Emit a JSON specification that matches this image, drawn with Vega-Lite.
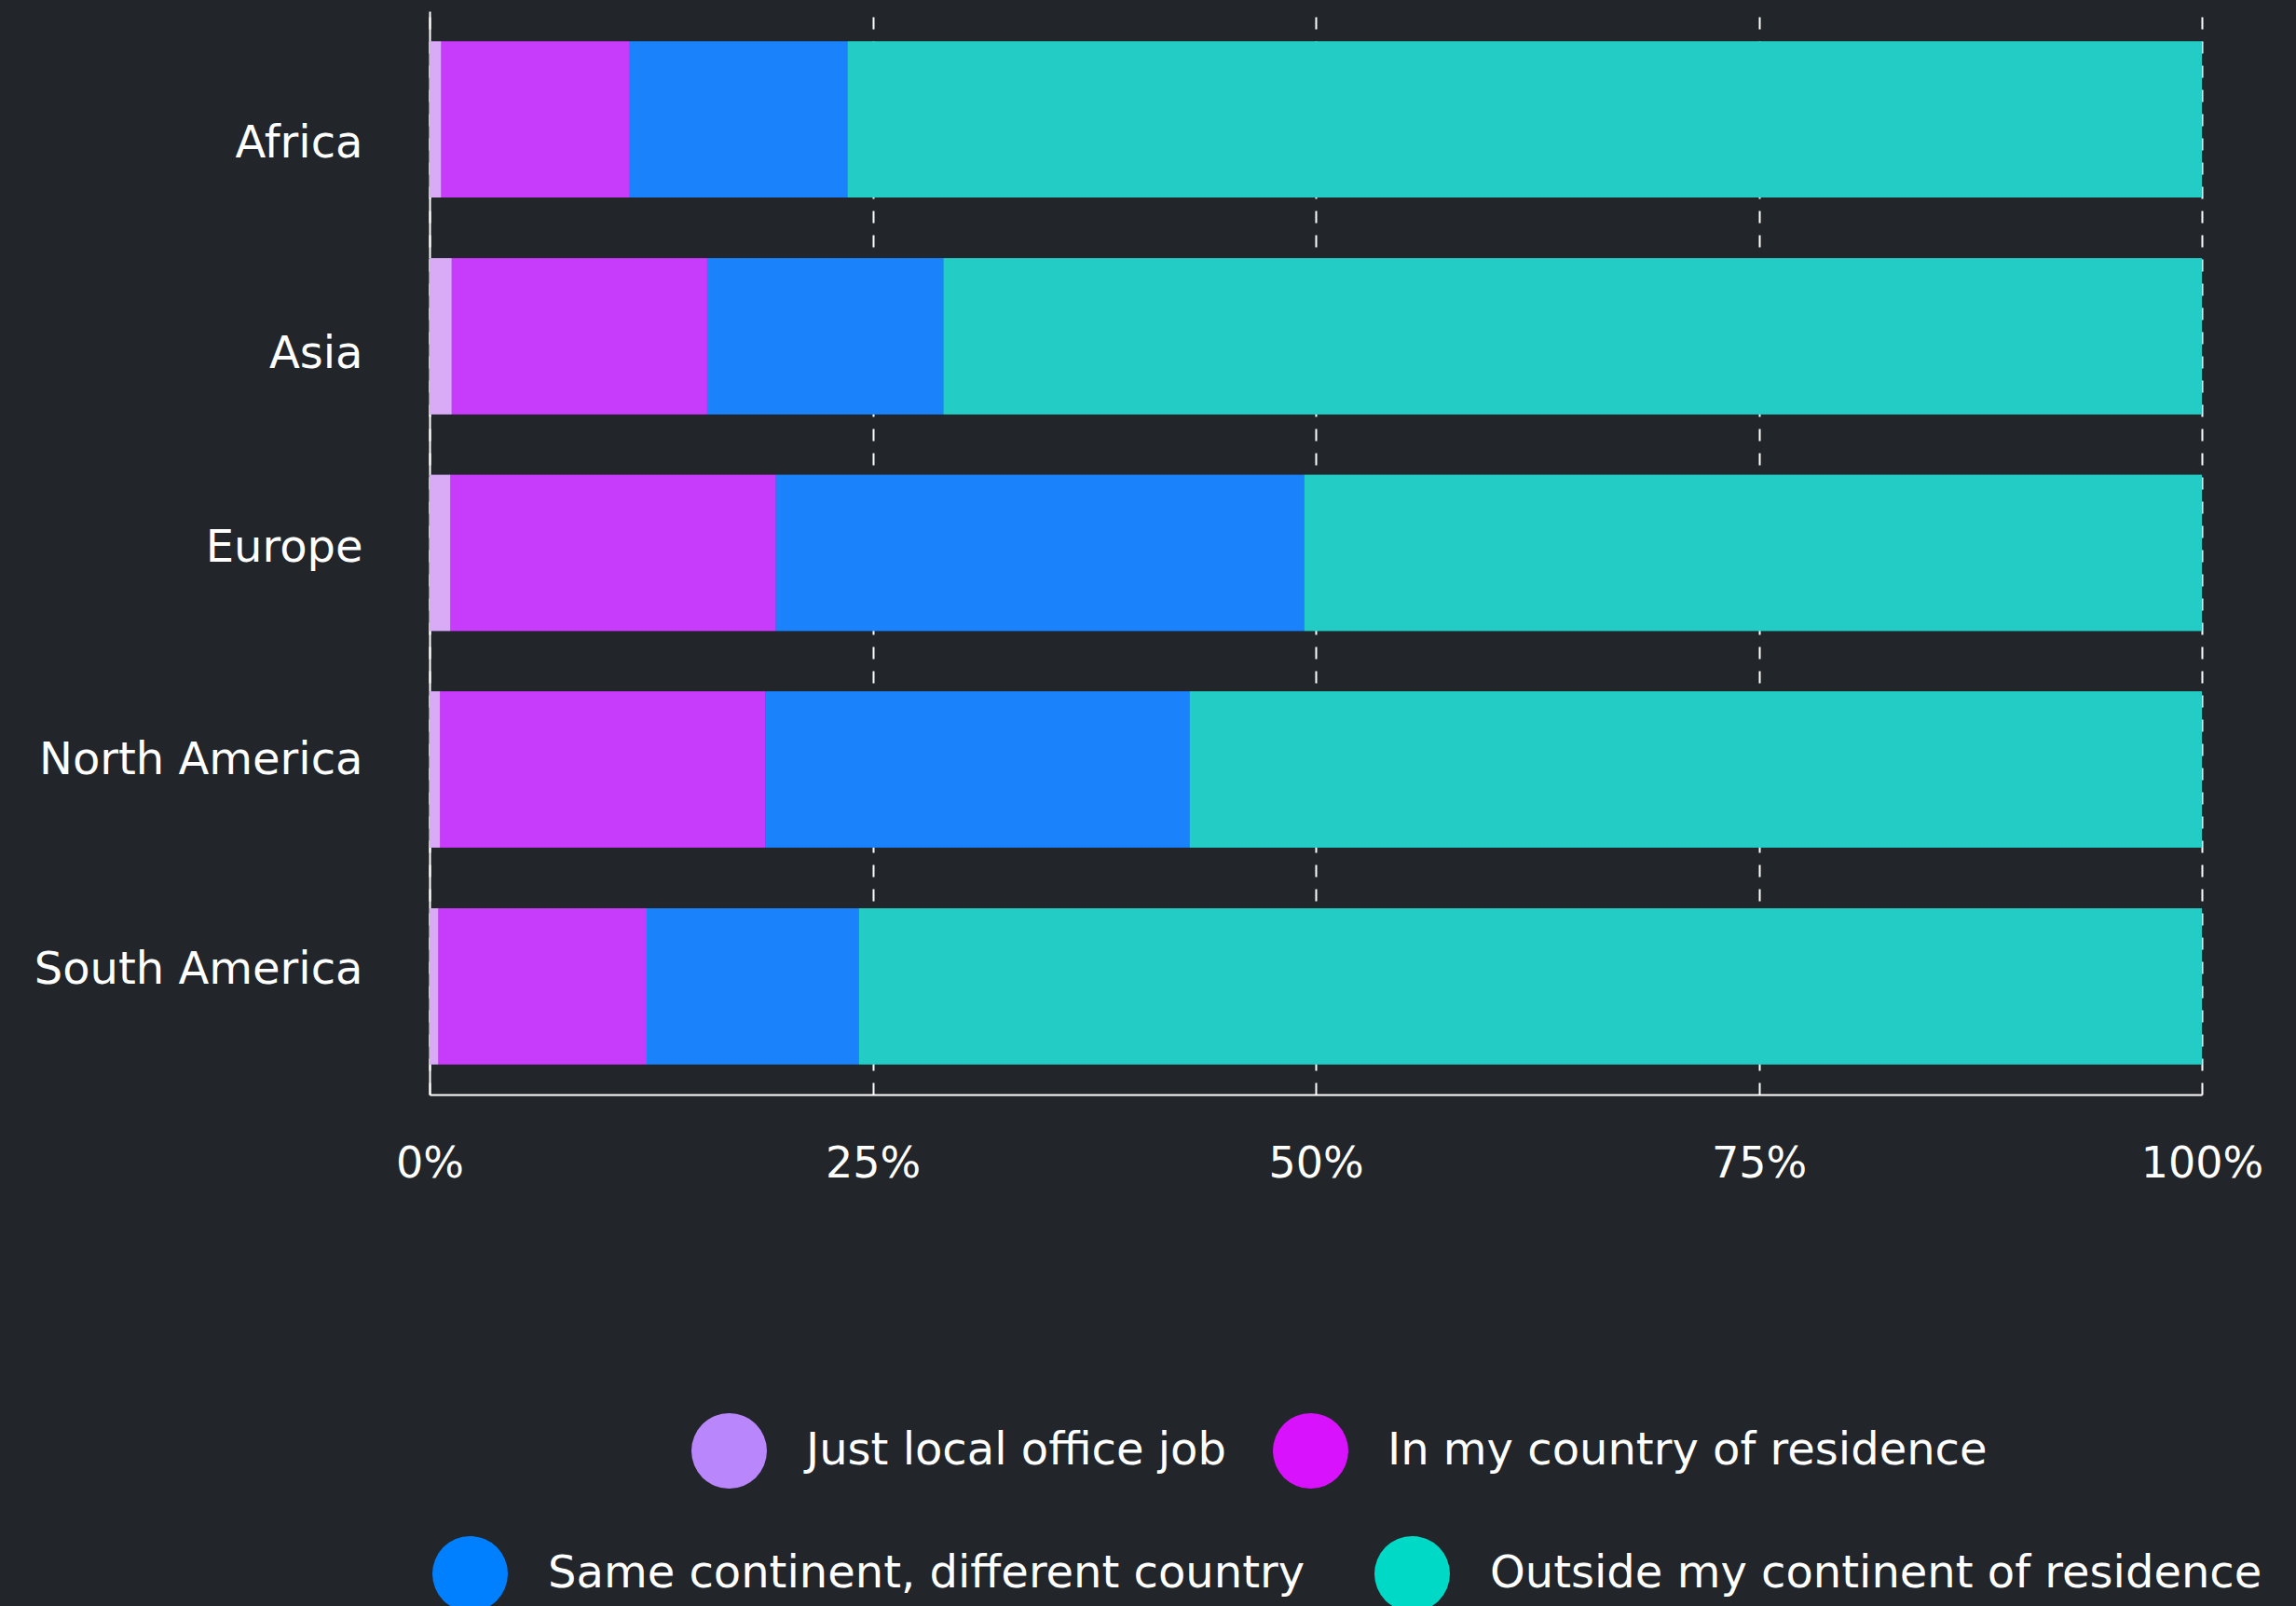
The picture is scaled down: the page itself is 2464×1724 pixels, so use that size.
{
  "$schema": "https://vega.github.io/schema/vega-lite/v6.json",
  "width": 1902,
  "height": 1163,
  "autosize": {"type": "none"},
  "padding": {"left": 461, "top": 12, "right": 101, "bottom": 549},
  "background": "#22252a",
  "data": {
    "values": [
      {"continent": "Africa", "category": "Just local office job", "order": 1, "pct": 0.66},
      {"continent": "Africa", "category": "In my country of residence", "order": 2, "pct": 10.63},
      {"continent": "Africa", "category": "Same continent, different country", "order": 3, "pct": 12.30},
      {"continent": "Africa", "category": "Outside my continent of residence", "order": 4, "pct": 76.41},
      {"continent": "Asia", "category": "Just local office job", "order": 1, "pct": 1.25},
      {"continent": "Asia", "category": "In my country of residence", "order": 2, "pct": 14.41},
      {"continent": "Asia", "category": "Same continent, different country", "order": 3, "pct": 13.34},
      {"continent": "Asia", "category": "Outside my continent of residence", "order": 4, "pct": 71.00},
      {"continent": "Europe", "category": "Just local office job", "order": 1, "pct": 1.18},
      {"continent": "Europe", "category": "In my country of residence", "order": 2, "pct": 18.36},
      {"continent": "Europe", "category": "Same continent, different country", "order": 3, "pct": 29.82},
      {"continent": "Europe", "category": "Outside my continent of residence", "order": 4, "pct": 50.64},
      {"continent": "North America", "category": "Just local office job", "order": 1, "pct": 0.60},
      {"continent": "North America", "category": "In my country of residence", "order": 2, "pct": 18.35},
      {"continent": "North America", "category": "Same continent, different country", "order": 3, "pct": 23.94},
      {"continent": "North America", "category": "Outside my continent of residence", "order": 4, "pct": 57.11},
      {"continent": "South America", "category": "Just local office job", "order": 1, "pct": 0.50},
      {"continent": "South America", "category": "In my country of residence", "order": 2, "pct": 11.75},
      {"continent": "South America", "category": "Same continent, different country", "order": 3, "pct": 11.98},
      {"continent": "South America", "category": "Outside my continent of residence", "order": 4, "pct": 75.77}
    ]
  },
  "transform": [
    {"stack": "pct", "groupby": ["continent"], "sort": [{"field": "order", "order": "ascending"}], "as": ["x0", "x1"]}
  ],
  "encoding": {
    "y": {
      "field": "continent",
      "type": "nominal",
      "sort": ["Africa", "Asia", "Europe", "North America", "South America"],
      "scale": {"paddingInner": 0.28, "paddingOuter": 0.14},
      "axis": {
        "title": null,
        "ticks": false,
        "tickSize": 0,
        "grid": false,
        "domain": true,
        "domainColor": "#ffffff",
        "domainWidth": 2,
        "labelFont": "DejaVu Sans",
        "labelFontSize": 48,
        "labelColor": "#ffffff",
        "labelPadding": 72,
        "labelLimit": 1000,
        "labelOffset": {
          "condition": [
            {"test": "datum.value === 'Africa'", "value": 27},
            {"test": "datum.value === 'Asia'", "value": 20},
            {"test": "datum.value === 'Europe'", "value": -5},
            {"test": "datum.value === 'North America'", "value": -9}
          ],
          "value": -17
        }
      }
    },
    "x": {
      "field": "x0",
      "type": "quantitative",
      "scale": {"domain": [0, 100], "nice": false, "zero": true},
      "axis": {
        "title": null,
        "values": [0, 25, 50, 75, 100],
        "labelExpr": "datum.value + '%'",
        "ticks": false,
        "tickSize": 0,
        "domain": true,
        "domainColor": "#ffffff",
        "domainWidth": 2,
        "grid": true,
        "gridColor": "#ffffff",
        "gridWidth": 2,
        "gridDash": [13, 13],
        "labelFont": "DejaVu Sans",
        "labelFontSize": 46,
        "labelColor": "#ffffff",
        "labelPadding": 52,
        "labelFlush": false,
        "labelOverlap": false
      }
    },
    "x2": {"field": "x1"}
  },
  "layer": [
    {
      "transform": [{"filter": "datum.order <= 2"}],
      "mark": {"type": "bar"},
      "encoding": {
        "color": {
          "field": "category",
          "type": "nominal",
          "scale": {
            "domain": ["Just local office job", "In my country of residence"],
            "range": ["#b987fb", "#d912fd"]
          },
          "legend": {
            "title": null,
            "orient": "none",
            "legendX": 281,
            "legendY": 1505,
            "direction": "horizontal",
            "symbolType": "circle",
            "symbolSize": 6561,
            "symbolStrokeWidth": 0,
            "symbolOpacity": 1,
            "labelOffset": 42,
            "columnPadding": 50,
            "labelFont": "DejaVu Sans",
            "labelFontSize": 48,
            "labelColor": "#ffffff",
            "labelLimit": 2000,
            "padding": 0,
            "encode": {"labels": {"dy": {"value": 5}}}
          }
        }
      }
    },
    {
      "transform": [{"filter": "datum.order > 2"}],
      "mark": {"type": "bar"},
      "encoding": {
        "color": {
          "field": "category",
          "type": "nominal",
          "scale": {
            "domain": ["Same continent, different country", "Outside my continent of residence"],
            "range": ["#0080ff", "#00d9c6"]
          },
          "legend": {
            "title": null,
            "orient": "none",
            "legendX": 3,
            "legendY": 1637,
            "direction": "horizontal",
            "symbolType": "circle",
            "symbolSize": 6561,
            "symbolStrokeWidth": 0,
            "symbolOpacity": 1,
            "labelOffset": 43,
            "columnPadding": 74,
            "labelFont": "DejaVu Sans",
            "labelFontSize": 48,
            "labelColor": "#ffffff",
            "labelLimit": 2000,
            "padding": 0,
            "encode": {"labels": {"dy": {"value": 5}}}
          }
        }
      }
    },
    {
      "mark": {"type": "bar"},
      "encoding": {
        "color": {
          "field": "category",
          "type": "nominal",
          "scale": {
            "domain": ["Just local office job", "In my country of residence", "Same continent, different country", "Outside my continent of residence"],
            "range": ["#d9abf6", "#c73cfa", "#1a82fa", "#23cdc5"]
          },
          "legend": null
        }
      }
    }
  ],
  "resolve": {"scale": {"color": "independent"}},
  "config": {
    "view": {"stroke": null},
    "bar": {"strokeWidth": 0}
  }
}
